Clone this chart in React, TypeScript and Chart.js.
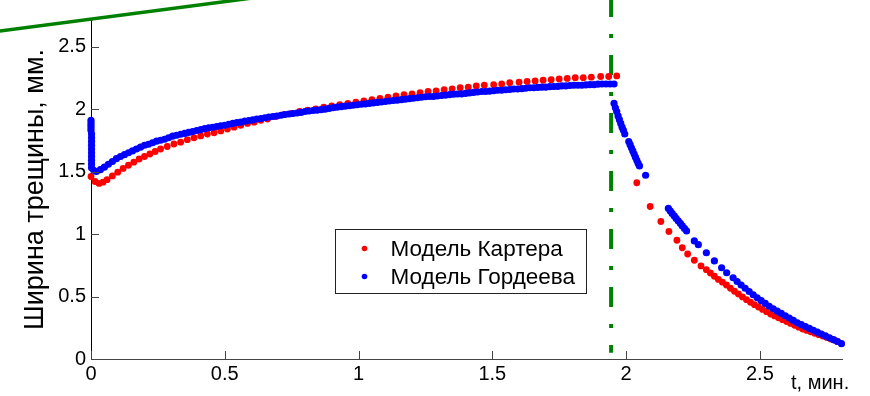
import { useEffect, useRef } from 'react';
import { Chart, registerables } from 'chart.js';

Chart.register(...registerables);

// Модель Картера: время (мин.) и ширина трещины (мм)
const carterT = [
  0, 0.015, 0.03, 0.045, 0.06, 0.08, 0.1, 0.12, 0.14, 0.16,
  0.18, 0.2, 0.22, 0.24, 0.26, 0.285, 0.31, 0.335, 0.36, 0.385,
  0.41, 0.435, 0.46, 0.485, 0.51, 0.535, 0.56, 0.585, 0.61, 0.635,
  0.66, 0.69, 0.72, 0.75, 0.78, 0.81, 0.84, 0.87, 0.9, 0.93,
  0.96, 0.99, 1.02, 1.05, 1.08, 1.11, 1.14, 1.17, 1.2, 1.23,
  1.26, 1.29, 1.32, 1.35, 1.38, 1.41, 1.44, 1.47, 1.505, 1.535,
  1.565, 1.6, 1.63, 1.66, 1.69, 1.72, 1.75, 1.78, 1.81, 1.84,
  1.87, 1.905, 1.935, 1.965,
  2.04, 2.09, 2.13, 2.16, 2.19, 2.21, 2.23, 2.255, 2.28,
  2.3, 2.315, 2.33, 2.345, 2.36, 2.375, 2.39, 2.405, 2.42, 2.435,
  2.45, 2.465, 2.48, 2.495, 2.51, 2.525, 2.54, 2.555, 2.57, 2.585,
  2.6, 2.615, 2.63, 2.645, 2.66, 2.675, 2.69, 2.705, 2.72, 2.735,
  2.75, 2.765, 2.78, 2.79,
];
const carterW = [
  1.46, 1.42, 1.405, 1.415, 1.435, 1.465, 1.495, 1.525, 1.55, 1.575,
  1.6, 1.62, 1.64, 1.66, 1.68, 1.7, 1.72, 1.735, 1.755, 1.77,
  1.785, 1.8, 1.81, 1.825, 1.84, 1.855, 1.87, 1.885, 1.895, 1.91,
  1.92, 1.94, 1.955, 1.965, 1.98, 1.99, 2.0, 2.015, 2.025, 2.035,
  2.045, 2.055, 2.065, 2.075, 2.085, 2.095, 2.105, 2.115, 2.12, 2.13,
  2.14, 2.145, 2.155, 2.16, 2.17, 2.175, 2.185, 2.19, 2.195, 2.2,
  2.21, 2.215, 2.22, 2.225, 2.23, 2.235, 2.24, 2.245, 2.25, 2.25,
  2.255, 2.26, 2.26, 2.265,
  1.41, 1.22, 1.1, 1.02, 0.95, 0.89, 0.84, 0.79, 0.745,
  0.715, 0.688, 0.662, 0.637, 0.615, 0.592, 0.566, 0.542, 0.52, 0.497,
  0.475, 0.454, 0.435, 0.416, 0.397, 0.379, 0.36, 0.345, 0.33, 0.315,
  0.3, 0.285, 0.27, 0.255, 0.24, 0.229, 0.218, 0.206, 0.195, 0.184,
  0.173, 0.161, 0.15, 0.14,
];

// Модель Гордеева: время (мин.) и ширина трещины (мм)
const gordeevT = [
  0, 0, 0, 0, 0, 0.002, 0.002, 0.002, 0.002, 0.002,
  0.002, 0.002, 0.002, 0.002, 0.002, 0.01,
  0.02, 0.035, 0.05, 0.065, 0.08, 0.095, 0.11, 0.125, 0.14, 0.155,
  0.17, 0.185, 0.2, 0.215, 0.23, 0.245, 0.26, 0.275, 0.29, 0.305,
  0.32, 0.335, 0.35, 0.365, 0.38, 0.395, 0.41, 0.425, 0.44, 0.455,
  0.47, 0.485, 0.5, 0.515, 0.53, 0.545, 0.56, 0.575, 0.59, 0.605,
  0.62, 0.635, 0.65, 0.665, 0.68, 0.695, 0.71, 0.725, 0.74, 0.755,
  0.77, 0.785, 0.8, 0.815, 0.83, 0.845, 0.86, 0.875, 0.89, 0.905,
  0.92, 0.935, 0.95, 0.965, 0.98, 0.995, 1.01, 1.025, 1.04, 1.055,
  1.07, 1.085, 1.1, 1.115, 1.13, 1.145, 1.16, 1.175, 1.19, 1.205,
  1.22, 1.235, 1.25, 1.265, 1.28, 1.295, 1.31, 1.325, 1.34, 1.355,
  1.37, 1.385, 1.4, 1.415, 1.43, 1.445, 1.46, 1.475, 1.49, 1.505,
  1.52, 1.535, 1.55, 1.565, 1.58, 1.595, 1.61, 1.625, 1.64, 1.655,
  1.67, 1.685, 1.7, 1.715, 1.73, 1.745, 1.76, 1.775, 1.79, 1.805,
  1.82, 1.835, 1.85, 1.865, 1.88, 1.895, 1.91, 1.925, 1.94, 1.955,
  1.955, 1.96, 1.965, 1.97, 1.975, 1.98, 1.985, 1.99, 1.995,
  2.01, 2.015, 2.02, 2.025, 2.03, 2.035, 2.04, 2.045, 2.05,
  2.073,
  2.158, 2.165, 2.172, 2.18, 2.187, 2.195, 2.203, 2.21, 2.218, 2.226,
  2.255, 2.27, 2.3, 2.33, 2.357, 2.376,
  2.4, 2.415, 2.43, 2.445, 2.46, 2.475, 2.49, 2.505, 2.52, 2.535,
  2.55, 2.565, 2.58, 2.595, 2.61, 2.625, 2.64, 2.655, 2.67, 2.685,
  2.7, 2.715, 2.73, 2.745, 2.76, 2.775, 2.79, 2.805,
];
const gordeevW = [
  1.91, 1.89, 1.87, 1.85, 1.83, 1.8, 1.77, 1.74, 1.71, 1.68,
  1.65, 1.62, 1.59, 1.56, 1.53, 1.51,
  1.5, 1.515, 1.535, 1.558, 1.58, 1.603, 1.62, 1.635, 1.65, 1.665,
  1.68, 1.695, 1.71, 1.718, 1.73, 1.743, 1.75, 1.758, 1.77, 1.783,
  1.79, 1.798, 1.805, 1.813, 1.82, 1.828, 1.835, 1.843, 1.85, 1.854,
  1.86, 1.866, 1.87, 1.878, 1.885, 1.891, 1.895, 1.903, 1.908, 1.913,
  1.92, 1.924, 1.93, 1.936, 1.94, 1.944, 1.95, 1.956, 1.96, 1.964,
  1.968, 1.973, 1.98, 1.984, 1.988, 1.991, 1.995, 1.999, 2.005, 2.011,
  2.015, 2.019, 2.023, 2.026, 2.03, 2.034, 2.038, 2.041, 2.045, 2.049,
  2.053, 2.056, 2.06, 2.064, 2.068, 2.071, 2.075, 2.079, 2.083, 2.086,
  2.09, 2.094, 2.098, 2.1, 2.1, 2.104, 2.108, 2.111, 2.115, 2.119,
  2.12, 2.121, 2.125, 2.129, 2.133, 2.136, 2.14, 2.14, 2.143, 2.146,
  2.15, 2.15, 2.154, 2.156, 2.16, 2.16, 2.163, 2.166, 2.17, 2.17,
  2.173, 2.175, 2.175, 2.179, 2.18, 2.181, 2.185, 2.185, 2.188, 2.19,
  2.19, 2.19, 2.193, 2.195, 2.195, 2.199, 2.2, 2.2, 2.2, 2.2,
  2.045, 2.01, 1.98, 1.945, 1.915, 1.885, 1.855, 1.83, 1.8,
  1.74, 1.715, 1.69, 1.665, 1.64, 1.615, 1.59, 1.565, 1.545,
  1.47,
  1.205, 1.185, 1.165, 1.145, 1.125, 1.105, 1.085, 1.065, 1.045, 1.025,
  0.945, 0.915, 0.85, 0.785, 0.73, 0.69,
  0.65, 0.62, 0.592, 0.566, 0.54, 0.514, 0.49, 0.467, 0.445, 0.422,
  0.402, 0.383, 0.365, 0.346, 0.328, 0.309, 0.29, 0.275, 0.26, 0.245,
  0.23, 0.215, 0.2, 0.185, 0.17, 0.155, 0.14, 0.123,
];

// Наклонная линия в верхнем левом углу
const slopeT = [-0.4, 0.7];
const slopeW = [2.607, 2.915];

// Момент окончания закачки (штрихпунктир)
const stopT = [1.944, 1.944];
const stopW = [2.896, 0.05];

const xTicks = [0, 0.5, 1, 1.5, 2, 2.5];
const xTickLabels = ['0', '0.5', '1', '1.5', '2', '2.5'];
const yTicks = [0, 0.5, 1, 1.5, 2, 2.5];
const yTickLabels = ['0', '0.5', '1', '1.5', '2', '2.5'];

const seriesNames = ['Модель Картера', 'Модель Гордеева'];
const seriesColors = ['#ff0000', '#0000ff'];
const xTitle = 't, мин.';
const yTitle = 'Ширина трещины, мм.';

const FONT = "Arial, 'Liberation Sans', Helvetica, sans-serif";

const zip = (t: number[], w: number[]) => t.map((x, i) => ({ x, y: w[i] }));

// Inward tick marks, axis titles and the boxed legend
const decorations = {
  id: 'decorations',
  afterDraw(chart: any) {
    const { ctx, chartArea, scales } = chart;
    const xs = scales.x;
    const ys = scales.y;
    ctx.save();

    ctx.strokeStyle = '#444';
    ctx.lineWidth = 1;
    ctx.beginPath();
    for (const v of xTicks) {
      const px = Math.round(xs.getPixelForValue(v)) + 0.5;
      ctx.moveTo(px, chartArea.bottom);
      ctx.lineTo(px, chartArea.bottom - 8);
    }
    for (const v of yTicks) {
      const py = Math.round(ys.getPixelForValue(v)) + 0.5;
      ctx.moveTo(chartArea.left, py);
      ctx.lineTo(chartArea.left + 8, py);
    }
    ctx.stroke();

    ctx.fillStyle = '#000';
    ctx.font = `20px ${FONT}`;
    ctx.textAlign = 'left';
    ctx.textBaseline = 'alphabetic';
    ctx.fillText(xTitle, chartArea.right - 51, chartArea.bottom + 30);

    ctx.save();
    ctx.translate(43, (chartArea.top + chartArea.bottom) / 2);
    ctx.rotate(-Math.PI / 2);
    ctx.font = `27px ${FONT}`;
    ctx.textAlign = 'center';
    ctx.fillText(yTitle, 0, 0);
    ctx.restore();

    // legend
    const bx = 335.5, by = 229.5, bw = 251, bh = 64;
    ctx.fillStyle = '#fff';
    ctx.fillRect(bx, by, bw, bh);
    ctx.strokeStyle = '#222';
    ctx.strokeRect(bx, by, bw, bh);
    ctx.font = `22.5px ${FONT}`;
    ctx.textBaseline = 'middle';
    ctx.textAlign = 'left';
    seriesNames.forEach((name, i) => {
      const cy = by + 19 + i * 28;
      ctx.fillStyle = seriesColors[i];
      ctx.beginPath();
      ctx.arc(bx + 29, cy, 2.8, 0, Math.PI * 2);
      ctx.fill();
      ctx.fillStyle = '#000';
      ctx.fillText(name, bx + 55, cy + 1);
    });

    ctx.restore();
  },
};

export default function App() {
  const canvasRef = useRef<HTMLCanvasElement | null>(null);

  useEffect(() => {
    const canvas = canvasRef.current;
    if (!canvas) return;
    const chart = new Chart(canvas, {
      type: 'scatter',
      data: {
        datasets: [
          {
            data: zip(slopeT, slopeW),
            showLine: true,
            borderColor: '#008000',
            borderWidth: 3.5,
            pointRadius: 0,
            clip: false,
            order: 4,
          },
          {
            data: zip(stopT, stopW),
            showLine: true,
            borderColor: '#008000',
            borderWidth: 4,
            borderDash: [20, 17, 4, 17],
            borderCapStyle: 'butt',
            pointRadius: 0,
            clip: false,
            order: 3,
          },
          {
            label: seriesNames[0],
            data: zip(carterT, carterW),
            backgroundColor: seriesColors[0],
            borderWidth: 0,
            pointRadius: 3.4,
            clip: false,
            order: 2,
          },
          {
            label: seriesNames[1],
            data: zip(gordeevT, gordeevW),
            backgroundColor: seriesColors[1],
            borderWidth: 0,
            pointRadius: 3.6,
            clip: false,
            order: 1,
          },
        ],
      } as any,
      options: {
        animation: false,
        responsive: false,
        devicePixelRatio: 1,
        layout: { padding: { left: 0, top: 20, right: 28, bottom: 0 } },
        plugins: {
          legend: { display: false },
          tooltip: { enabled: false },
        },
        scales: {
          x: {
            type: 'linear',
            min: 0,
            max: 2.807,
            afterFit: (s: any) => {
              s.height = 37;
            },
            afterBuildTicks: (s: any) => {
              s.ticks = xTicks.map((value) => ({ value }));
            },
            grid: { display: false, drawTicks: false },
            border: { display: true, color: '#444', width: 1 },
            ticks: {
              padding: 3,
              color: '#000',
              autoSkip: false,
              maxRotation: 0,
              font: { family: FONT, size: 20 },
              callback: (_v: any, i: number) => xTickLabels[i],
            },
          },
          y: {
            type: 'linear',
            min: 0,
            max: 2.712,
            afterFit: (s: any) => {
              s.width = 91;
            },
            afterBuildTicks: (s: any) => {
              s.ticks = yTicks.map((value) => ({ value }));
            },
            grid: { display: false, drawTicks: false },
            border: { display: true, color: '#000', width: 1 },
            ticks: {
              padding: 5,
              color: '#000',
              autoSkip: false,
              font: { family: FONT, size: 20 },
              callback: (_v: any, i: number) => yTickLabels[i],
            },
          },
        },
      } as any,
      plugins: [decorations],
    });
    return () => chart.destroy();
  }, []);

  return (
    <div style={{ position: 'absolute', left: 0, top: 0, width: 870, height: 396, background: '#fff' }}>
      <canvas ref={canvasRef} width={870} height={396} />
    </div>
  );
}
